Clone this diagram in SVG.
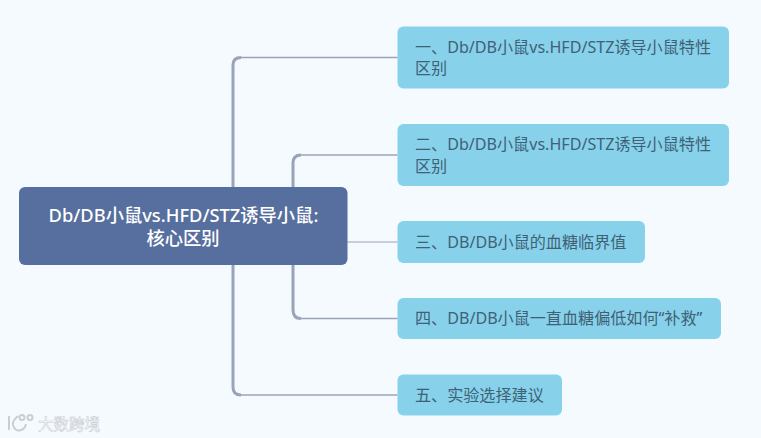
<svg xmlns="http://www.w3.org/2000/svg" width="761" height="438" viewBox="0 0 761 438">
<defs>
<style>
text{font-family:"Noto Sans","Noto Sans CJK SC",sans-serif;font-size:16.100px;fill:#3f6176}
.root text{fill:#fff;font-size:18.300px;font-weight:500;text-anchor:middle}
.box{fill:#87d2ea}
.c{fill:none;stroke:#9aa4b9}
.wm{font-size:15.500px;fill:#fff;stroke:#c4c9cf;stroke-width:.5px}
.logo{fill:none;stroke:#c9ced4;stroke-width:2}
</style>
</defs>
<rect width="761" height="438" fill="#f5faff"/>
<g id="connectors">
<path class="c" stroke-width="3" d="M233 187V65Q233 57.500 241 57.500"/>
<path class="c" stroke-width="1.500" d="M241 57.500H397.500"/>
<path class="c" stroke-width="3" d="M293 187V163Q293 155 301 155"/>
<path class="c" stroke-width="1.500" d="M301 155H397.500"/>
<path class="c" stroke-width="1.500" d="M347 242H397.500" style="stroke:#b4c0d0"/>
<path class="c" stroke-width="3" d="M293 265V310Q293 318.500 301 318.500"/>
<path class="c" stroke-width="1.500" d="M301 318.500H397.500"/>
<path class="c" stroke-width="3" d="M233 265V387Q233 395 241 395"/>
<path class="c" stroke-width="1.500" d="M241 395H397.500"/>
</g>
<g id="root" class="root">
<rect x="19" y="187" width="328.500" height="78" rx="6" fill="#576f9e"/>
<text x="183.500" y="221.500">Db/DB小鼠vs.HFD/STZ诱导小鼠:</text>
<text x="183" y="245">核心区别</text>
</g>
<g id="node1">
<rect class="box" x="397.500" y="26.500" width="331.500" height="62" rx="6"/>
<text x="415" y="53">一、Db/DB小鼠vs.HFD/STZ诱导小鼠特性</text>
<text x="415" y="74">区别</text>
</g>
<g id="node2">
<rect class="box" x="397.500" y="124" width="331.500" height="62" rx="6"/>
<text x="415" y="150">二、Db/DB小鼠vs.HFD/STZ诱导小鼠特性</text>
<text x="415" y="172">区别</text>
</g>
<g id="node3">
<rect class="box" x="397.500" y="221" width="247.500" height="42" rx="6"/>
<text x="415" y="248">三、DB/DB小鼠的血糖临界值</text>
</g>
<g id="node4">
<rect class="box" x="397.500" y="298" width="323.500" height="41" rx="6"/>
<text x="415" y="324">四、DB/DB小鼠一直血糖偏低如何“补救”</text>
</g>
<g id="node5">
<rect class="box" x="397.500" y="374.500" width="164.500" height="41" rx="6"/>
<text x="415" y="401">五、实验选择建议</text>
</g>
<g id="watermark">
<path class="logo" d="M9 416V430M18 416Q12 421 13 425Q15 432 21 430Q25 429 26 424"/>
<circle class="logo" cx="22" cy="417.500" r="2.500"/>
<circle class="logo" cx="30" cy="417.500" r="2.500"/>
<text class="wm" x="38" y="430">大数跨境</text>
</g>
</svg>
